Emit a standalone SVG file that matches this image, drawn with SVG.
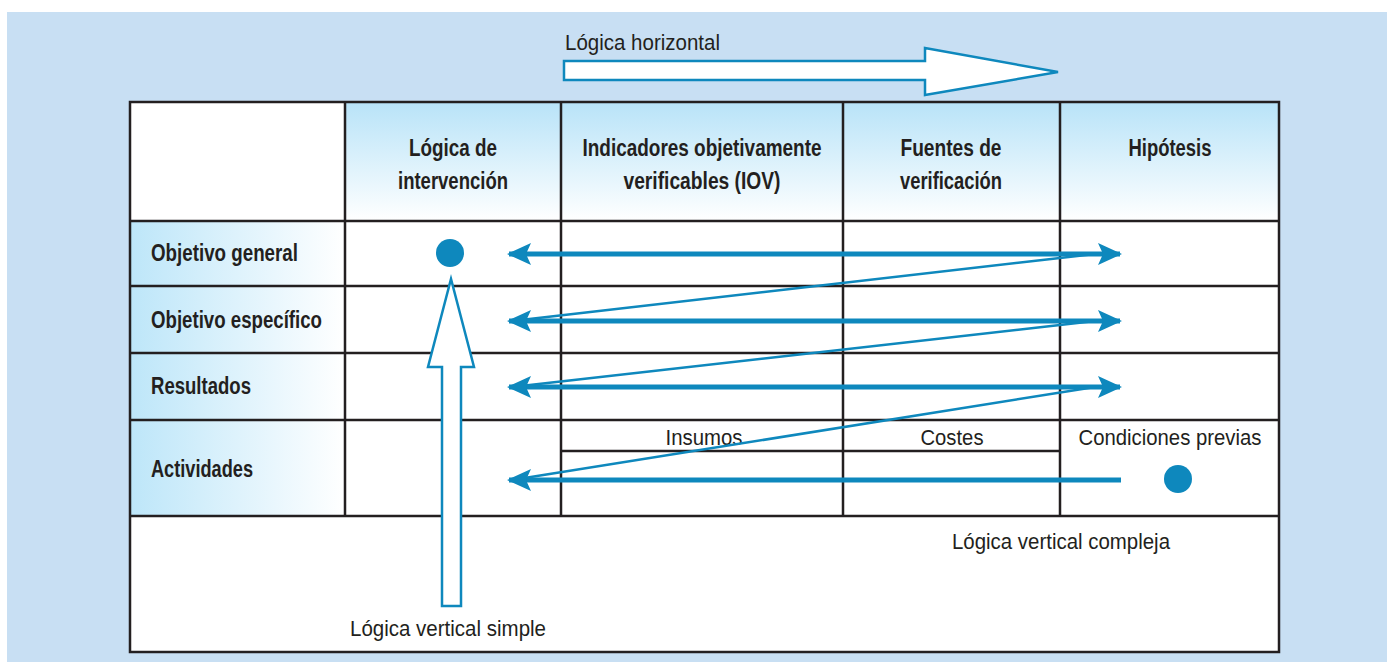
<svg xmlns="http://www.w3.org/2000/svg" width="1387" height="662" viewBox="0 0 1387 662">
<style>
.grid{stroke:#231f20;stroke-width:2.5;fill:none}
.hd{font-family:"Liberation Sans",Arial,sans-serif;font-size:23px;font-weight:bold;fill:#231f20;text-anchor:middle}
.rl{font-family:"Liberation Sans",Arial,sans-serif;font-size:23px;font-weight:bold;fill:#231f20}
.lb{font-family:"Liberation Sans",Arial,sans-serif;font-size:22.5px;fill:#231f20}
.ctr{text-anchor:middle}
.thick{stroke:#0e88bd;stroke-width:5;fill:none}
.thin{stroke:#0e88bd;stroke-width:2.5;fill:none}
.big{fill:#fff;stroke:#0e88bd;stroke-width:2.5;stroke-linejoin:miter}
.dot{fill:#0e88bd}
</style>
<defs>
<linearGradient id="gv" x1="0" y1="0" x2="0" y2="1">
<stop offset="0" stop-color="#b8e3f8"/>
<stop offset="1" stop-color="#ffffff"/>
</linearGradient>
<linearGradient id="gh" x1="0" y1="0" x2="1" y2="0">
<stop offset="0" stop-color="#bde6f9"/>
<stop offset="1" stop-color="#ffffff"/>
</linearGradient>
<marker id="ah" viewBox="0 0 24 24" refX="22" refY="12" markerWidth="24" markerHeight="24" markerUnits="userSpaceOnUse" orient="auto-start-reverse">
<path d="M0,1 L24,12 L0,23 L5,12 Z" fill="#0e88bd"/>
</marker>
</defs>
<rect x="0" y="0" width="1387" height="662" fill="#ffffff"/>
<rect x="7" y="12" width="1380" height="650" fill="#c8dff3"/>

<g id="table">
<rect x="130" y="102" width="1149" height="550" fill="#ffffff"/>
<rect x="345" y="102" width="934" height="119" fill="url(#gv)"/>
<rect x="130" y="221" width="215" height="295" fill="url(#gh)"/>
<rect x="130" y="102" width="1149" height="550" class="grid"/>
<line x1="345" y1="102" x2="345" y2="516" class="grid"/>
<line x1="561" y1="102" x2="561" y2="516" class="grid"/>
<line x1="843" y1="102" x2="843" y2="516" class="grid"/>
<line x1="1060" y1="102" x2="1060" y2="516" class="grid"/>
<line x1="130" y1="221" x2="1279" y2="221" class="grid"/>
<line x1="130" y1="286" x2="1279" y2="286" class="grid"/>
<line x1="130" y1="353" x2="1279" y2="353" class="grid"/>
<line x1="130" y1="420" x2="1279" y2="420" class="grid"/>
<line x1="130" y1="516" x2="1279" y2="516" class="grid"/>
<line x1="561" y1="451" x2="1060" y2="451" class="grid"/>
</g>

<g id="headers">
<text class="hd" x="453" y="156" textLength="88" lengthAdjust="spacingAndGlyphs">Lógica de</text>
<text class="hd" x="453" y="189" textLength="110" lengthAdjust="spacingAndGlyphs">intervención</text>
<text class="hd" x="702" y="156" textLength="239" lengthAdjust="spacingAndGlyphs">Indicadores objetivamente</text>
<text class="hd" x="702" y="189" textLength="157" lengthAdjust="spacingAndGlyphs">verificables (IOV)</text>
<text class="hd" x="951" y="156" textLength="101" lengthAdjust="spacingAndGlyphs">Fuentes de</text>
<text class="hd" x="951" y="189" textLength="102" lengthAdjust="spacingAndGlyphs">verificación</text>
<text class="hd" x="1170" y="156" textLength="83" lengthAdjust="spacingAndGlyphs">Hipótesis</text>
</g>

<g id="rows">
<text class="rl" x="151" y="261" textLength="147" lengthAdjust="spacingAndGlyphs">Objetivo general</text>
<text class="rl" x="151" y="328" textLength="171" lengthAdjust="spacingAndGlyphs">Objetivo específico</text>
<text class="rl" x="151" y="394" textLength="100" lengthAdjust="spacingAndGlyphs">Resultados</text>
<text class="rl" x="151" y="477" textLength="102" lengthAdjust="spacingAndGlyphs">Actividades</text>
</g>

<g id="cells">
<text class="lb ctr" x="704" y="445" textLength="77" lengthAdjust="spacingAndGlyphs">Insumos</text>
<text class="lb ctr" x="952" y="445" textLength="63" lengthAdjust="spacingAndGlyphs">Costes</text>
<text class="lb ctr" x="1170" y="445" textLength="183" lengthAdjust="spacingAndGlyphs">Condiciones previas</text>
<circle id="dot-general" class="dot" cx="450" cy="253" r="14"/>
<circle id="dot-previas" class="dot" cx="1178" cy="479" r="14"/>
</g>

<g id="labels">
<text class="lb" x="565" y="50" textLength="155" lengthAdjust="spacingAndGlyphs">Lógica horizontal</text>
<text class="lb" x="952" y="549" textLength="218" lengthAdjust="spacingAndGlyphs">Lógica vertical compleja</text>
<text class="lb" x="350" y="636" textLength="196" lengthAdjust="spacingAndGlyphs">Lógica vertical simple</text>
</g>

<g id="connectors">
<path id="arrow-horizontal" class="big" d="M564,61 L925,61 L925,48 L1058,72 L925,95 L925,80 L564,80 Z"/>
<path id="arrow-vertical" class="big" d="M442,606 L442,367 L428,367 L451,279 L474,367 L461,367 L461,606 Z"/>
<line class="thin" x1="1095" y1="254" x2="512" y2="321"/>
<line class="thin" x1="1095" y1="321" x2="512" y2="387"/>
<line class="thin" x1="1095" y1="387" x2="512" y2="480"/>
<line class="thick" x1="509" y1="254" x2="1120" y2="254" marker-start="url(#ah)" marker-end="url(#ah)"/>
<line class="thick" x1="509" y1="321" x2="1120" y2="321" marker-start="url(#ah)" marker-end="url(#ah)"/>
<line class="thick" x1="509" y1="387" x2="1120" y2="387" marker-start="url(#ah)" marker-end="url(#ah)"/>
<line class="thick" x1="1121" y1="480" x2="509" y2="480" marker-end="url(#ah)"/>
</g>
</svg>
